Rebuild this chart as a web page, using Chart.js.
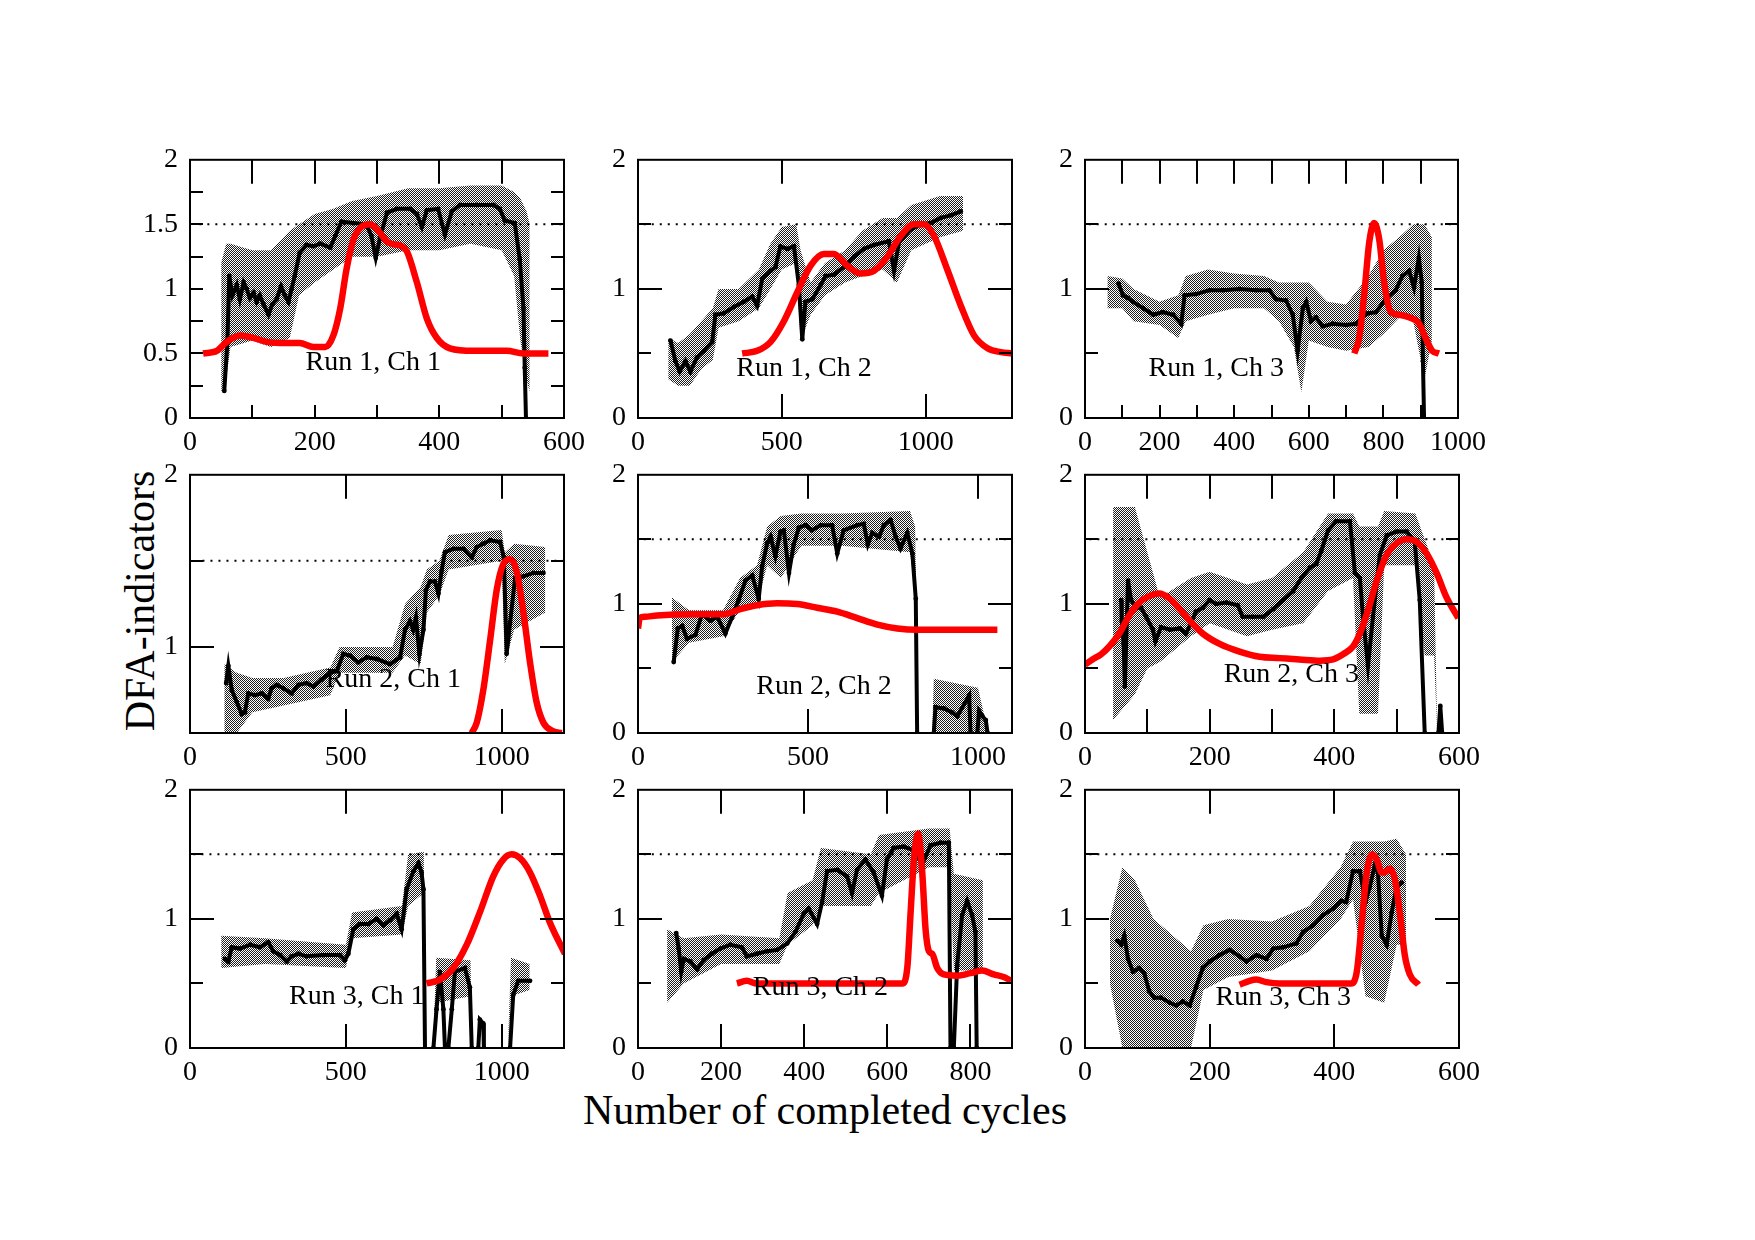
<!DOCTYPE html>
<html>
<head>
<meta charset="utf-8">
<script src="https://cdn.jsdelivr.net/npm/chart.js@4.4.0/dist/chart.umd.min.js"></script>
<style>
  body { margin: 0; background: #fff; width: 1755px; height: 1240px; position: relative; overflow: hidden; font-family: "Liberation Serif", serif; }
  canvas { position: absolute; }
  #ylab { position: absolute; left: 140px; top: 601px; transform: translate(-50%, -50%) rotate(-90deg); font-size: 42px; white-space: nowrap; }
  #xlab { position: absolute; left: 825px; top: 1110px; transform: translate(-50%, -50%); font-size: 42px; white-space: nowrap; }
</style>
</head>
<body>
<div id="ylab">DFA-indicators</div>
<div id="xlab">Number of completed cycles</div>
<script>
// tick labels
const xTicks600 = [0, 200, 400, 600];
const xTicks1000 = [0, 200, 400, 600, 800, 1000];
const xTicks900 = [0, 200, 400, 600, 800];
const xTicks500s = [0, 500, 1000];
const yTicksFine = [0, 0.5, 1, 1.5, 2];
const yTicks = [0, 1, 2];
const yTicksHigh = [1, 2];

// Run 1
const blackR1C1 = [[55,0.21],[60,0.59],[63,1.10],[68,0.95],[75,1.03],[80,0.92],[86,1.05],[91,1.0],[96,0.93],[102,0.97],[107,0.90],[112,0.95],[118,0.88],[126,0.80],[132,0.88],[139,0.92],[146,1.02],[152,0.95],[158,0.90],[163,1.0],[168,1.1],[176,1.28],[187,1.34],[198,1.33],[209,1.35],[225,1.32],[233,1.41],[243,1.52],[262,1.51],[283,1.50],[291,1.41],[298,1.24],[305,1.40],[316,1.59],[332,1.62],[353,1.62],[364,1.58],[372,1.48],[380,1.61],[398,1.62],[409,1.42],[420,1.60],[433,1.65],[460,1.65],[487,1.65],[497,1.62],[505,1.53],[521,1.51],[529,1.23],[535,0.85],[537,0.39],[539,0]];
const bandR1C1 = [[50,0.2,1.2],[58,0.3,1.35],[65,0.55,1.35],[100,0.6,1.3],[130,0.55,1.3],[160,0.62,1.45],[175,0.95,1.5],[200,1.05,1.58],[230,1.15,1.62],[260,1.25,1.68],[300,1.25,1.72],[350,1.3,1.78],[400,1.3,1.78],[450,1.35,1.8],[500,1.3,1.8],[520,1.1,1.75],[530,0.6,1.7],[540,0.3,1.6],[545,0.2,1.5]];
const redR1C1 = [[21,0.5],[43,0.52],[59,0.59],[80,0.64],[102,0.62],[123,0.59],[155,0.58],[176,0.58],[198,0.55],[217,0.55],[230,0.64],[241,0.85],[251,1.15],[262,1.38],[275,1.48],[289,1.5],[302,1.45],[318,1.36],[340,1.33],[348,1.29],[364,1.05],[380,0.77],[396,0.62],[417,0.54],[455,0.52],[508,0.52],[535,0.5],[575,0.5]];

const blackR1C2 = [[113,0.60],[130,0.44],[145,0.36],[165,0.44],[182,0.36],[205,0.47],[229,0.52],[258,0.59],[269,0.80],[298,0.81],[333,0.86],[368,0.90],[397,0.94],[414,0.87],[432,1.08],[461,1.14],[478,1.17],[495,1.33],[519,1.31],[542,1.33],[559,1.03],[571,0.61],[582,0.90],[606,0.92],[635,1.03],[652,1.10],[681,1.11],[716,1.17],[751,1.25],[785,1.31],[820,1.34],[872,1.37],[890,1.14],[907,1.36],[948,1.46],[983,1.50],[1017,1.51],[1052,1.55],[1087,1.57],[1122,1.60]];
const bandR1C2 = [[105,0.3,0.62],[140,0.25,0.58],[180,0.25,0.65],[220,0.38,0.75],[260,0.45,0.85],[280,0.7,1.0],[350,0.75,1.0],[420,0.85,1.15],[460,1.0,1.35],[500,1.15,1.48],[550,1.2,1.5],[565,0.6,1.3],[600,0.8,1.05],[650,0.95,1.2],[720,1.05,1.3],[780,1.1,1.45],[850,1.15,1.55],[900,1.05,1.55],[950,1.3,1.65],[1050,1.4,1.72],[1130,1.45,1.72]];
const redR1C2 = [[362,0.50],[414,0.52],[461,0.59],[507,0.75],[553,0.97],[600,1.18],[646,1.27],[681,1.27],[727,1.18],[774,1.12],[820,1.14],[867,1.25],[913,1.41],[959,1.50],[994,1.50],[1029,1.41],[1075,1.15],[1122,0.87],[1168,0.64],[1215,0.54],[1261,0.51],[1300,0.50]];

const blackR1C3 = [[90,1.04],[102,0.95],[115,0.93],[129,0.90],[156,0.85],[183,0.80],[209,0.82],[236,0.80],[258,0.73],[267,0.95],[298,0.96],[334,0.99],[370,0.99],[414,1.0],[459,0.99],[494,0.99],[512,0.92],[539,0.91],[557,0.80],[570,0.52],[584,0.85],[593,0.90],[606,0.75],[619,0.78],[637,0.71],[664,0.73],[699,0.72],[726,0.73],[757,0.81],[780,0.82],[806,0.92],[833,0.99],[851,1.10],[869,1.14],[882,1.01],[895,1.24],[903,1.05],[906,0.44],[909,0]];
const bandR1C3 = [[60,0.85,1.1],[100,0.85,1.08],[130,0.75,1.0],[200,0.72,0.9],[250,0.62,0.95],[270,0.75,1.1],[330,0.8,1.15],[400,0.85,1.12],[480,0.85,1.1],[520,0.75,1.05],[560,0.55,1.05],[580,0.2,1.05],[600,0.6,1.05],[650,0.55,0.9],[700,0.52,0.88],[760,0.55,1.1],[800,0.65,1.3],[850,0.8,1.42],[880,0.75,1.5],[910,0.3,1.5],[930,0.6,1.4]];
const redR1C3 = [[722,0.50],[735,0.62],[749,0.97],[762,1.36],[775,1.51],[789,1.38],[802,1.05],[820,0.82],[842,0.80],[869,0.78],[896,0.73],[913,0.62],[931,0.52],[949,0.50]];

// Run 2
const blackR2C1 = [[116,0.79],[123,0.89],[134,0.75],[150,0.68],[166,0.61],[176,0.62],[187,0.73],[209,0.72],[230,0.73],[251,0.70],[262,0.76],[278,0.78],[299,0.76],[326,0.73],[348,0.78],[374,0.79],[396,0.77],[422,0.81],[449,0.85],[471,0.86],[492,0.96],[513,0.95],[540,0.91],[567,0.94],[599,0.93],[642,0.90],[674,0.94],[690,1.10],[706,1.15],[716,1.10],[725,1.17],[736,0.96],[749,1.10],[757,1.33],[770,1.38],[786,1.38],[797,1.31],[807,1.44],[818,1.55],[845,1.57],[877,1.57],[904,1.52],[920,1.58],[941,1.60],[963,1.62],[995,1.61],[1007,1.52],[1016,0.96],[1027,1.14],[1043,1.40],[1069,1.41],[1102,1.43],[1134,1.43]];
const bandR2C1 = [[110,0.5,0.9],[150,0.5,0.85],[200,0.62,0.82],[300,0.66,0.82],[450,0.72,0.88],[480,0.85,1.0],[650,0.85,1.0],[690,0.95,1.25],[740,0.9,1.35],[760,1.2,1.45],[800,1.3,1.5],[830,1.45,1.65],[1000,1.5,1.68],[1010,0.9,1.55],[1040,1.1,1.6],[1140,1.2,1.58]];
const redR2C1 = [[904,0.5],[920,0.56],[941,0.75],[963,1.04],[984,1.33],[1005,1.48],[1027,1.51],[1048,1.44],[1069,1.21],[1091,0.91],[1112,0.68],[1134,0.56],[1166,0.51],[1193,0.5]];

const blackR2C2 = [[105,0.55],[117,0.81],[130,0.83],[144,0.73],[169,0.76],[188,0.92],[213,0.87],[233,0.90],[257,0.77],[277,0.90],[296,1.03],[316,1.18],[336,1.22],[355,1.04],[365,1.29],[380,1.47],[390,1.52],[404,1.37],[419,1.56],[429,1.57],[444,1.24],[458,1.46],[473,1.59],[493,1.61],[512,1.57],[537,1.61],[571,1.61],[586,1.39],[605,1.57],[645,1.61],[664,1.62],[676,1.46],[689,1.55],[709,1.52],[723,1.61],[743,1.65],[758,1.52],[772,1.43],[792,1.55],[807,1.39],[817,1.04],[821,0],[845,null],[870,0],[875,0.20],[900,0.19],[924,0.16],[939,0.13],[974,0.29],[978,0],[988,null],[998,0],[1003,0.17],[1013,0.13],[1023,0.10],[1028,0]];
const bandR2C2 = [[100,0.55,1.05],[150,0.7,0.95],[250,0.75,0.95],[300,0.95,1.2],[350,1.0,1.3],[380,1.3,1.6],[420,1.2,1.68],[480,1.45,1.7],[600,1.45,1.7],[800,1.4,1.72],[815,1.1,1.6],[825,0,0],[865,0,0],[870,0,0.42],[1000,0,0.35],[1030,0,0]];
const redR2C2 = [[0,0.81],[5,0.89],[20,0.90],[56,0.91],[154,0.92],[252,0.92],[301,0.96],[350,0.99],[409,1.005],[468,1.0],[527,0.97],[586,0.94],[645,0.89],[704,0.84],[763,0.81],[821,0.80],[890,0.80],[959,0.80],[1057,0.80]];

const blackR2C3 = [[58,1.03],[59,0.87],[62,0.69],[64,0.36],[69,1.18],[74,1.03],[82,0.97],[90,0.97],[98,0.90],[109,0.80],[113,0.71],[122,0.82],[136,0.80],[152,0.81],[162,0.77],[170,0.85],[178,0.94],[189,0.97],[200,1.03],[210,1.0],[227,1.01],[245,0.99],[253,0.90],[269,0.90],[286,0.90],[302,0.96],[318,1.03],[334,1.10],[347,1.20],[361,1.28],[371,1.31],[379,1.41],[390,1.57],[403,1.64],[425,1.64],[433,1.24],[441,1.20],[446,0.90],[454,0.52],[462,0.90],[473,1.38],[484,1.53],[500,1.56],[516,1.56],[529,1.48],[537,1.03],[545,0],[556,null],[567,0],[570,0.21],[573,0]];
const bandR2C3 = [[45,0.1,1.75],[80,0.3,1.75],[100,0.5,1.4],[120,0.55,1.05],[170,0.75,1.2],[200,0.85,1.25],[260,0.75,1.15],[300,0.8,1.2],[350,0.85,1.4],[390,1.1,1.7],[430,1.2,1.7],[440,0.15,1.6],[470,0.15,1.6],[480,1.3,1.72],[530,1.3,1.7],[545,0.6,1.5],[560,0.6,1.3],[565,0,0]];
const redR2C3 = [[0,0.53],[12,0.57],[26,0.61],[39,0.67],[55,0.77],[71,0.91],[87,1.01],[103,1.06],[119,1.08],[136,1.04],[152,0.96],[168,0.87],[189,0.77],[216,0.69],[248,0.63],[280,0.59],[312,0.58],[344,0.57],[377,0.56],[398,0.57],[414,0.61],[430,0.67],[441,0.77],[454,0.95],[468,1.18],[484,1.38],[500,1.47],[516,1.50],[532,1.48],[548,1.39],[564,1.24],[580,1.05],[599,0.89]];

// Run 3
const blackR3C1 = [[112,0.69],[123,0.67],[134,0.78],[160,0.77],[193,0.80],[225,0.78],[251,0.82],[267,0.75],[289,0.72],[310,0.67],[326,0.71],[348,0.73],[374,0.71],[428,0.72],[481,0.72],[497,0.68],[508,0.73],[524,0.92],[545,0.96],[572,0.96],[599,1.0],[620,0.95],[642,0.99],[663,1.04],[679,0.92],[695,1.23],[717,1.37],[733,1.43],[743,1.36],[749,1.23],[754,0],[768,null],[781,0],[791,0.30],[802,0.59],[813,0.30],[818,0],[823,null],[829,0],[840,0.30],[850,0.59],[882,0.62],[898,0.47],[904,0],[915,null],[925,0],[930,0.22],[941,0.19],[943,0],[990,null],[1027,0],[1037,0.41],[1053,0.52],[1091,0.52]];
const bandR3C1 = [[100,0.62,0.87],[240,0.65,0.85],[500,0.62,0.8],[520,0.85,1.05],[680,0.88,1.1],[700,1.1,1.5],[750,1.2,1.52],[755,0,0],[780,0,0],[790,0.35,0.7],[900,0.4,0.68],[905,0,0],[1020,0,0],[1030,0.4,0.7],[1090,0.45,0.65]];
const redR3C1 = [[759,0.50],[802,0.53],[845,0.62],[888,0.80],[930,1.05],[973,1.33],[1005,1.46],[1032,1.50],[1059,1.47],[1091,1.36],[1123,1.18],[1155,0.97],[1203,0.73]];

const blackR3C2 = [[92,0.89],[98,0.77],[104,0.59],[110,0.69],[126,0.67],[142,0.61],[158,0.68],[178,0.73],[198,0.77],[222,0.80],[250,0.78],[262,0.71],[286,0.73],[311,0.75],[335,0.76],[359,0.81],[379,0.90],[399,1.04],[411,1.08],[431,0.96],[443,1.13],[455,1.37],[479,1.38],[503,1.33],[515,1.20],[527,1.38],[547,1.46],[567,1.36],[587,1.18],[599,1.46],[615,1.55],[639,1.56],[664,1.53],[684,1.42],[704,1.57],[728,1.59],[748,1.59],[752,0],[756,null],[760,0],[768,0.64],[780,1.03],[792,1.14],[804,1.03],[812,0.90],[815,0]];
const bandR3C2 = [[70,0.35,0.92],[110,0.5,0.85],[200,0.65,0.88],[340,0.65,0.85],[360,0.8,1.2],[420,0.95,1.3],[440,1.1,1.55],[560,1.1,1.5],[580,1.2,1.65],[700,1.4,1.7],[750,1.4,1.7],[760,0.6,1.35],[830,0.6,1.3]];
const redR3C2 = [[238,0.50],[262,0.52],[286,0.50],[447,0.50],[636,0.50],[648,0.62],[656,1.05],[664,1.46],[674,1.66],[684,1.36],[692,0.92],[700,0.75],[708,0.73],[720,0.62],[736,0.57],[768,0.56],[800,0.58],[828,0.60],[856,0.57],[880,0.55],[898,0.52]];

const blackR3C3 = [[52,0.83],[58,0.80],[63,0.87],[69,0.69],[77,0.59],[87,0.62],[95,0.58],[103,0.44],[111,0.39],[122,0.39],[136,0.35],[146,0.33],[157,0.36],[168,0.33],[178,0.47],[189,0.62],[200,0.67],[216,0.72],[232,0.76],[248,0.71],[259,0.67],[275,0.72],[291,0.69],[302,0.77],[318,0.78],[339,0.81],[350,0.90],[366,0.95],[382,1.03],[398,1.08],[411,1.14],[419,1.13],[430,1.37],[441,1.37],[450,1.13],[457,1.25],[465,1.42],[470,1.36],[476,0.87],[484,0.80],[492,1.05],[500,1.25],[508,1.28]];
const bandR3C3 = [[40,0.5,1.0],[60,0.0,1.4],[80,0.0,1.3],[110,0.0,1.0],[170,0.0,0.75],[190,0.45,0.95],[230,0.55,1.0],[300,0.6,0.98],[360,0.75,1.1],[410,1.0,1.4],[430,1.15,1.6],[450,0.4,1.6],[480,0.35,1.6],[500,0.8,1.62],[515,0.8,1.5]];
const redR3C3 = [[248,0.49],[264,0.52],[275,0.53],[291,0.51],[312,0.50],[355,0.50],[427,0.50],[436,0.59],[444,0.97],[452,1.36],[461,1.50],[468,1.46],[476,1.36],[481,1.36],[489,1.39],[497,1.31],[505,1.05],[513,0.72],[521,0.57],[535,0.49]];

// layout of the 3x3 grid
const colLeft = [190, 638, 1085];
const rowTop = [156, 471, 786];
const plotW = 374, plotH = 262, axisW = 70, axisH = 55, padTop = 25, padRight = 35;

const panels = [
  { black: blackR1C1, band: bandR1C1, red: redR1C1, xMax: 600, yMin: 0, xLabels: xTicks600, yLabels: yTicksFine, dotFrom: 15, text: 'Run 1, Ch 1', at: [294, 0.43],
    xMarks: [[100, 24, 13]], yMarks: [[0.25, 13]] },
  { black: blackR1C2, band: bandR1C2, red: redR1C2, xMax: 1300, yMin: 0, xLabels: xTicks500s, yLabels: yTicks, dotFrom: 20, text: 'Run 1, Ch 2', at: [577, 0.38],
    xMarks: [[500, 24, 24]], yMarks: [[0.5, 13], [1, 24]] },
  { black: blackR1C3, band: bandR1C3, red: redR1C3, xMax: 1000, yMin: 0, xLabels: xTicks1000, yLabels: yTicks, dotFrom: 10, text: 'Run 1, Ch 3', at: [352, 0.38],
    xMarks: [[100, 24, 13]], yMarks: [[0.5, 13], [1, 24]] },
  { black: blackR2C1, band: bandR2C1, red: redR2C1, xMax: 1200, yMin: 0.5, xLabels: xTicks500s, yLabels: yTicksHigh, dotFrom: 40, text: 'Run 2, Ch 1', at: [652, 0.81],
    xMarks: [[500, 24, 24]], yMarks: [[0.5, 13], [1, 24]] },
  { black: blackR2C2, band: bandR2C2, red: redR2C2, xMax: 1100, yMin: 0, xLabels: xTicks500s, yLabels: yTicks, dotFrom: 17, text: 'Run 2, Ch 2', at: [547, 0.36],
    xMarks: [[500, 24, 24]], yMarks: [[0.5, 13], [1, 24]] },
  { black: blackR2C3, band: bandR2C3, red: redR2C3, xMax: 600, yMin: 0, xLabels: xTicks600, yLabels: yTicks, dotFrom: 7, text: 'Run 2, Ch 3', at: [331, 0.45],
    xMarks: [[100, 24, 24]], yMarks: [[0.5, 13], [1, 24]] },
  { black: blackR3C1, band: bandR3C1, red: redR3C1, xMax: 1200, yMin: 0, xLabels: xTicks500s, yLabels: yTicks, dotFrom: 11, text: 'Run 3, Ch 1', at: [535, 0.40],
    xMarks: [[500, 24, 24]], yMarks: [[0.5, 13], [1, 24]] },
  { black: blackR3C2, band: bandR3C2, red: redR3C2, xMax: 900, yMin: 0, xLabels: xTicks900, yLabels: yTicks, dotFrom: 14, text: 'Run 3, Ch 2', at: [439, 0.47],
    xMarks: [[200, 24, 24]], yMarks: [[0.5, 13], [1, 24]] },
  { black: blackR3C3, band: bandR3C3, red: redR3C3, xMax: 600, yMin: 0, xLabels: xTicks600, yLabels: yTicks, dotFrom: 7, text: 'Run 3, Ch 3', at: [318, 0.39],
    xMarks: [[200, 24, 24]], yMarks: [[0.5, 13], [1, 24]] }
];

// stippled grey used for the error-bar band
function stipple() {
  const c = document.createElement('canvas');
  c.width = 2; c.height = 2;
  const g = c.getContext('2d');
  g.fillStyle = '#1e1e1e';
  g.fillRect(0, 0, 1, 1);
  g.fillRect(1, 1, 1, 1);
  return g.createPattern(c, 'repeat');
}

// frame, inward ticks and the run label
const framePlugin = {
  id: 'frame',
  afterDatasetsDraw(chart, args, opts) {
    const { ctx, chartArea: a, scales: { x, y } } = chart;
    const p = opts.panel;
    ctx.save();
    ctx.strokeStyle = '#000';
    ctx.lineWidth = 2;
    ctx.beginPath();
    p.xMarks.forEach(([step, top, bottom]) => {
      for (let v = step; v < x.max; v += step) {
        const px = Math.round(x.getPixelForValue(v));
        ctx.moveTo(px, a.top); ctx.lineTo(px, a.top + top);
        ctx.moveTo(px, a.bottom); ctx.lineTo(px, a.bottom - bottom);
      }
    });
    p.yMarks.forEach(([step, len]) => {
      for (let v = Math.ceil((y.min + 1e-9) / step) * step; v < y.max - 1e-9; v += step) {
        const py = Math.round(y.getPixelForValue(v));
        ctx.moveTo(a.left, py); ctx.lineTo(a.left + len, py);
        ctx.moveTo(a.right, py); ctx.lineTo(a.right - len, py);
      }
    });
    ctx.stroke();
    ctx.strokeRect(a.left, a.top, a.width, a.height);
    ctx.fillStyle = '#000';
    ctx.font = '28px "Liberation Serif"';
    ctx.textAlign = 'center';
    ctx.textBaseline = 'middle';
    ctx.fillText(p.text, x.getPixelForValue(p.at[0]), y.getPixelForValue(p.at[1]));
    ctx.restore();
  }
};

const tickFont = { family: 'Liberation Serif', size: 28 };
const pattern = stipple();

panels.forEach((p, i) => {
  const canvas = document.createElement('canvas');
  canvas.width = axisW + plotW + padRight;
  canvas.height = padTop + plotH + axisH;
  canvas.style.left = (colLeft[i % 3] - axisW) + 'px';
  canvas.style.top = (rowTop[Math.floor(i / 3)] - padTop) + 'px';
  document.body.appendChild(canvas);

  const pts = arr => arr.map(([x, y]) => ({ x, y }));

  new Chart(canvas, {
    type: 'line',
    data: {
      datasets: [
        { data: pts(p.red), borderColor: '#ff0000', borderWidth: 6.5, pointRadius: 0, cubicInterpolationMode: 'monotone', fill: false },
        { data: pts(p.black), borderColor: '#000', borderWidth: 4, pointRadius: 2.4, pointBackgroundColor: '#000', pointBorderWidth: 0, fill: false },
        { data: [{ x: p.dotFrom, y: 1.5 }, { x: p.xMax, y: 1.5 }], borderColor: '#000', borderWidth: 2, borderDash: [2, 6], pointRadius: 0, fill: false },
        { data: p.band.map(([x, lo, hi]) => ({ x, y: hi })), borderColor: 'transparent', borderWidth: 0, pointRadius: 0, backgroundColor: pattern, fill: '+1' },
        { data: p.band.map(([x, lo]) => ({ x, y: lo })), borderColor: 'transparent', borderWidth: 0, pointRadius: 0, fill: false }
      ]
    },
    options: {
      responsive: false,
      animation: false,
      layout: { padding: { top: padTop, right: padRight, left: 0, bottom: 0 } },
      plugins: { legend: { display: false }, tooltip: { enabled: false }, frame: { panel: p } },
      scales: {
        x: {
          type: 'linear', min: 0, max: p.xMax,
          grid: { display: false, drawTicks: false }, border: { display: false },
          afterBuildTicks: s => { s.ticks = p.xLabels.map(v => ({ value: v })); },
          afterFit: s => { s.height = axisH; },
          ticks: { font: tickFont, color: '#000', padding: 8, maxRotation: 0, autoSkip: false, callback: v => String(v) }
        },
        y: {
          type: 'linear', min: p.yMin, max: 2,
          grid: { display: false, drawTicks: false }, border: { display: false },
          afterBuildTicks: s => { s.ticks = p.yLabels.map(v => ({ value: v })); },
          afterFit: s => { s.width = axisW; },
          ticks: { font: tickFont, color: '#000', padding: 12, autoSkip: false, callback: v => String(v) }
        }
      }
    },
    plugins: [framePlugin]
  });
});
</script>
</body>
</html>
